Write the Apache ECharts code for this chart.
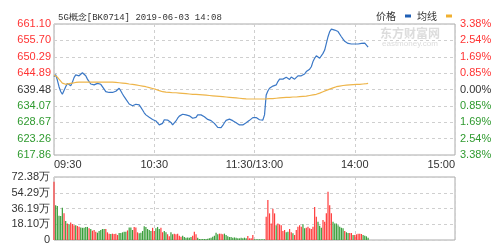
<!DOCTYPE html>
<html><head><meta charset="utf-8">
<script src="https://cdn.jsdelivr.net/npm/echarts@6/dist/echarts.min.js"></script>
<style>html,body{margin:0;padding:0;background:#fff}#c{width:500px;height:251px}</style>
</head><body><div id="c"></div>
<script>
const titleText = "5G概念[BK0714] 2019-06-03 14:08";
const timeLabels = ["09:30","10:30","11:30/13:00","14:00","15:00"];
const priceTicks = ["617.86","623.26","628.67","634.07","639.48","644.89","650.29","655.70","661.10"];
const pctTicks = ["3.38%","2.54%","1.69%","0.85%","0.00%","0.85%","1.69%","2.54%","3.38%"];
const volTicks = ["0","18.10万","36.19万","54.29万","72.38万"];
const priceMin = 617.86, priceMax = 661.10;
const volMax = 72.38;

const price = [
643.7,644.4,642.6,640.4,638.8,637.9,638.2,640.4,641.5,641.2,
640.7,641.9,643.4,644.3,644.3,644.0,644.6,645.0,644.8,644.0,
642.9,642.1,641.3,641.0,641.0,641.4,641.5,641.3,641.2,640.7,
639.6,638.8,638.4,638.5,638.4,638.5,638.8,638.9,639.3,639.9,
639.0,638.0,637.1,636.3,635.7,634.7,634.1,634.1,634.4,634.6,
634.7,634.4,633.6,632.7,631.8,631.1,630.5,630.3,630.3,629.6,
629.3,629.1,628.6,627.8,627.2,628.3,629.5,629.5,629.4,629.4,
628.6,627.8,628.3,629.1,630.0,630.7,631.1,631.3,631.3,631.1,
631.1,630.8,630.3,630.0,629.4,630.3,631.1,631.4,631.1,630.7,
630.5,630.0,629.6,629.4,629.2,628.7,628.3,627.8,627.0,626.7,
626.9,627.6,628.5,629.3,629.6,629.7,629.6,629.2,628.8,628.5,
628.1,627.8,627.8,627.8,628.0,628.5,629.1,629.3,629.7,630.2,
630.5,630.2,629.7,629.5,629.4,629.4,631.1,637.7,639.0,639.9,
640.3,640.6,640.6,641.0,642.1,642.9,643.2,642.9,642.8,643.5,
643.2,642.8,643.6,643.4,642.9,643.5,644.0,644.3,644.0,644.0,
644.6,645.4,645.7,646.2,647.0,648.7,649.8,650.6,650.6,649.8,
650.3,651.4,652.5,654.7,656.9,658.6,659.4,659.9,659.1,658.6,
658.6,658.0,656.9,656.1,655.4,654.8,654.7,654.5,654.5,654.4,
654.5,654.3,654.5,654.3,654.7,655.0,654.8,654.3,653.5
];
const avg = [
644.3,644.3,643.6,642.9,642.3,641.6,641.3,641.2,641.3,641.4,
641.5,641.6,641.7,641.8,641.8,641.9,641.9,641.9,641.9,641.9,
641.9,641.9,641.9,641.9,641.9,641.9,641.9,641.9,641.9,641.9,
641.9,641.9,641.9,641.9,641.9,641.9,641.8,641.8,641.7,641.7,
641.6,641.6,641.5,641.5,641.4,641.3,641.3,641.2,641.1,641.0,
640.9,640.8,640.7,640.6,640.5,640.4,640.3,640.1,639.9,639.8,
639.6,639.5,639.3,639.1,638.9,638.75,638.7,638.6,638.6,638.5,
638.5,638.4,638.4,638.4,638.3,638.3,638.2,638.2,638.1,638.1,
638.0,638.0,638.0,637.9,637.9,637.9,637.8,637.8,637.7,637.7,
637.7,637.6,637.6,637.5,637.5,637.4,637.4,637.3,637.3,637.2,
637.2,637.1,637.1,637.0,637.0,636.9,636.9,636.8,636.8,636.7,
636.7,636.6,636.6,636.5,636.5,636.4,636.4,636.35,636.35,636.35,
636.35,636.35,636.35,636.35,636.35,636.35,636.35,636.4,636.4,636.5,
636.5,636.5,636.6,636.6,636.7,636.7,636.8,636.8,636.8,636.9,
636.9,636.9,637.0,637.0,637.0,637.0,637.1,637.1,637.2,637.2,
637.3,637.3,637.4,637.5,637.6,637.7,637.8,637.9,638.1,638.3,
638.5,638.75,639.0,639.2,639.4,639.6,639.8,640.0,640.2,640.4,
640.5,640.6,640.7,640.8,640.9,640.9,641.0,641.0,641.1,641.1,
641.1,641.2,641.2,641.2,641.3,641.3,641.4,641.4,641.5
];
const volume = [
67,40,39,28,27.5,37,30.6,21.8,19,18,
20,18.4,17,17,16,15.3,14.5,14,14,15,
15,13.4,12.6,10.7,11.5,9.6,8.4,10.3,11.5,12.6,
12.6,12.6,8.8,7.3,6.9,7.3,6.9,7.3,5.7,8,
8,8.8,9.6,9.6,11,14.5,14.5,11.5,15,14.5,
8.8,7.7,8.4,10.3,15.7,15,12.6,11.5,10.3,14,
10.3,13.4,15,12.6,14,8.8,10.3,8.8,6.5,4.2,
8.8,6.5,7.3,6.5,7.3,5,3.8,5,3.4,2.7,
3,2.7,3.4,5,9.6,6.5,2.7,1.1,1.1,1.1,
1.1,1.1,1.5,1.9,2.7,3.8,5,8.4,6.5,7.3,
7.3,6.5,7.3,5.7,4.2,3.4,3.4,2.7,3,2.7,
1.9,1.9,2.7,1.9,2.7,1.9,4.6,1.9,1.9,5.7,
0.8,0.8,0.8,0.8,0.8,0.8,0.8,26.8,46,30.6,
19,36,30.6,17,19,18,17,10.3,11.5,8.8,
9.6,12.6,8.8,7.7,5.7,11.5,15.3,17,15.3,18,
13.4,14,15.3,13.4,12.6,15.3,38,26.8,21,16.5,
14,23,21,30.6,55.5,40,30.6,21,19,19,
17,15.3,14,13.4,10.3,8.8,8,8,8,5.7,
5.7,6.5,7.3,7.3,6.9,5.7,5,4.2,2.7
];
const volDir = (
"rgggggrgrg" + "rrrgrrgggg" + "grgrrrgggg" + "grrrgrrrrg" + "ggggrgggrr" +
"rggggggggr" + "rgggrrggrr" + "ggrrrrrggg" + "gggrrrgggg" + "gggggggggr" +
"rrgggggggg" + "ggggggrrrr" + "gggggggrrr" + "rrrgrrrrrg" + "grrgrrrrrg" +
"grrrrrrrgg" + "grrrrrrggg" + "ggggrggrrg" + "rrrrrgggg"
).split("");

const RED = "#ff3b3b", GREEN = "#3a9e3a";
const priceStep = (priceMax - priceMin) / 8;
const pctMax = 3.38, pctStep = pctMax / 4;
const volStep = volMax / 4;

const labelRich = {
  r: {color: "#ff3333", fontSize: 11, fontFamily: "Liberation Sans"},
  g: {color: "#2f9a2f", fontSize: 11, fontFamily: "Liberation Sans"},
  k: {color: "#333", fontSize: 11, fontFamily: "Liberation Sans"}
};
function cls(k){ return k > 4 ? "r" : (k < 4 ? "g" : "k"); }

const chart = echarts.init(document.getElementById("c"), null, {renderer: "canvas"});
const dashed = {show: true, lineStyle: {color: "#cfcfcf", type: [3, 3], width: 1}};

chart.setOption({
  animation: false,
  backgroundColor: "#fff",
  title: {
    text: titleText, left: 53, top: 8,
    textStyle: {fontSize: 9, fontWeight: "normal", color: "#333", fontFamily: "Liberation Mono"}
  },
  legend: {
    right: 43, top: 6, align: "right", icon: "rect", itemWidth: 6, itemHeight: 3, itemGap: 6,
    textStyle: {fontSize: 10, color: "#333", fontFamily: "Noto Sans CJK SC", padding: [0, 4, 0, 0]},
    data: [{name: "价格", itemStyle: {color: "#1f5fb5"}}, {name: "均线", itemStyle: {color: "#f0b030"}}]
  },
  graphic: [
    {type: "text", left: 380, top: 27, style: {text: "东方财富网", fontSize: 12, fill: "#dcdcdc", fontFamily: "Noto Sans CJK SC", fontWeight: "bold"}},
    {type: "text", left: 382, top: 40, style: {text: "eastmoney.com", fontSize: 8, fill: "#dcdcdc", fontFamily: "Liberation Sans"}}
  ],
  grid: [
    {left: 54, right: 45, top: 24, height: 131, show: true, borderColor: "#aaa", borderWidth: 1},
    {left: 54, right: 45, top: 177, height: 63, show: true, borderColor: "#aaa", borderWidth: 1}
  ],
  xAxis: [
    {type: "value", gridIndex: 0, min: 0, max: 240, interval: 60,
     axisLine: {show: false}, axisTick: {show: false}, splitLine: dashed,
     axisLabel: {margin: 4, color: "#333", fontSize: 11, fontFamily: "Liberation Sans",
       alignMinLabel: "left", alignMaxLabel: "right",
       formatter: v => timeLabels[Math.round(v / 60)]}},
    {type: "value", gridIndex: 1, min: 0, max: 240, interval: 60,
     axisLine: {show: false}, axisTick: {show: false}, splitLine: dashed, axisLabel: {show: false}}
  ],
  yAxis: [
    {type: "value", gridIndex: 0, min: priceMin, max: priceMax, interval: priceStep,
     axisLine: {show: false}, axisTick: {show: false}, splitLine: dashed,
     axisLabel: {margin: 3, rich: labelRich,
       formatter: v => { const k = Math.round((v - priceMin) / priceStep); return "{" + cls(k) + "|" + priceTicks[k] + "}"; }}},
    {type: "value", gridIndex: 0, position: "right", min: -pctMax, max: pctMax, interval: pctStep,
     axisLine: {show: false}, axisTick: {show: false}, splitLine: {show: false},
     axisLabel: {margin: 5, rich: labelRich,
       formatter: v => { const k = Math.round((v + pctMax) / pctStep); return "{" + cls(k) + "|" + pctTicks[k] + "}"; }}},
    {type: "value", gridIndex: 1, min: 0, max: volMax, interval: volStep,
     axisLine: {show: false}, axisTick: {show: false}, splitLine: dashed,
     axisLabel: {margin: 4, color: "#333", fontSize: 11, fontFamily: "Liberation Sans",
       formatter: v => volTicks[Math.round(v / volStep)]}}
  ],
  series: [
    {name: "价格", type: "line", xAxisIndex: 0, yAxisIndex: 0, showSymbol: false, silent: true,
     lineStyle: {color: "#3b78c6", width: 1.2}, itemStyle: {color: "#1f5fb5"},
     data: price.map((p, i) => [i, p])},
    {name: "均线", type: "line", xAxisIndex: 0, yAxisIndex: 0, showSymbol: false, silent: true,
     lineStyle: {color: "#eeb54a", width: 1.2}, itemStyle: {color: "#f0b030"},
     data: avg.map((p, i) => [i, p])},
    {name: "成交量", type: "bar", xAxisIndex: 1, yAxisIndex: 2, barWidth: 1.2, silent: true,
     data: volume.map((v, i) => ({value: [i, v], itemStyle: {color: volDir[i] === "r" ? RED : GREEN}}))}
  ]
});
</script></body></html>
